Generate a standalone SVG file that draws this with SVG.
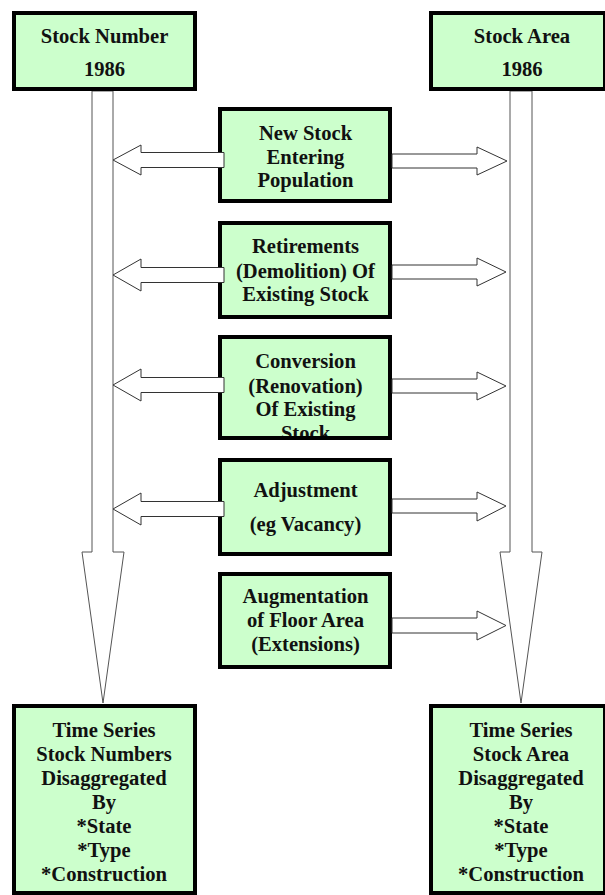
<svg xmlns="http://www.w3.org/2000/svg" width="605" height="895" viewBox="0 0 605 895">
  <style>
    .box { fill: #ccffcc; stroke: none; }
    .edge { fill: none; stroke: #000; stroke-width: 4; }
    .lbl { font-family: "Liberation Serif", "Times New Roman", serif; font-weight: bold; font-size: 20.6px; fill: #111; text-anchor: middle; }
    .flow { fill: #fff; stroke: #333; stroke-width: 1; }
    .trunk { fill: #fff; stroke: #555; stroke-width: 1; }
  </style>

  <!-- main stock flows (drawn first, ends tucked under the boxes) -->
  <g id="trunks">
    <polygon class="trunk" points="92,91 92,552 82,552 103,703 124,552 113,552 113,91"/>
    <polygon class="trunk" points="510,91 510,552 500,552 521,703 542,552 532,552 532,91"/>
  </g>

  <g id="stock-number-1986">
    <rect class="box" x="14" y="13" width="181" height="76"/>
    <text class="lbl" x="104.5" y="43">Stock Number</text>
    <text class="lbl" x="104.5" y="76">1986</text>
    <rect class="edge" x="14" y="13" width="181" height="76"/>
  </g>

  <g id="stock-area-1986">
    <rect class="box" x="431" y="13" width="174" height="76"/>
    <text class="lbl" x="522" y="43">Stock Area</text>
    <text class="lbl" x="522" y="76">1986</text>
    <rect class="edge" x="431" y="13" width="174" height="76"/>
  </g>

  <g id="new-stock">
    <rect class="box" x="220" y="109" width="170" height="92"/>
    <text class="lbl" x="305.5" y="140">New Stock</text>
    <text class="lbl" x="305.5" y="163.5">Entering</text>
    <text class="lbl" x="305.5" y="187">Population</text>
    <rect class="edge" x="220" y="109" width="170" height="92"/>
  </g>

  <g id="retirements">
    <rect class="box" x="220" y="223" width="170" height="94"/>
    <text class="lbl" x="305.5" y="253">Retirements</text>
    <text class="lbl" x="305.5" y="278">(Demolition) Of</text>
    <text class="lbl" x="305.5" y="301">Existing Stock</text>
    <rect class="edge" x="220" y="223" width="170" height="94"/>
  </g>

  <g id="conversion">
    <rect class="box" x="220" y="337" width="170" height="101"/>
    <text class="lbl" x="305.5" y="368">Conversion</text>
    <text class="lbl" x="305.5" y="393">(Renovation)</text>
    <text class="lbl" x="305.5" y="416">Of Existing</text>
    <text class="lbl" x="305.5" y="440">Stock</text>
    <rect class="edge" x="220" y="337" width="170" height="101"/>
  </g>

  <g id="adjustment">
    <rect class="box" x="220" y="460" width="170" height="94"/>
    <text class="lbl" x="305.5" y="497">Adjustment</text>
    <text class="lbl" x="305.5" y="531">(eg Vacancy)</text>
    <rect class="edge" x="220" y="460" width="170" height="94"/>
  </g>

  <g id="augmentation">
    <rect class="box" x="220" y="574" width="170" height="93"/>
    <text class="lbl" x="305.5" y="603">Augmentation</text>
    <text class="lbl" x="305.5" y="627">of Floor Area</text>
    <text class="lbl" x="305.5" y="651">(Extensions)</text>
    <rect class="edge" x="220" y="574" width="170" height="93"/>
  </g>

  <g id="time-series-numbers">
    <rect class="box" x="14" y="706" width="181" height="187"/>
    <text class="lbl" x="104" y="737">Time Series</text>
    <text class="lbl" x="104" y="761">Stock Numbers</text>
    <text class="lbl" x="104" y="785">Disaggregated</text>
    <text class="lbl" x="104" y="809">By</text>
    <text class="lbl" x="104" y="833">*State</text>
    <text class="lbl" x="104" y="857">*Type</text>
    <text class="lbl" x="104" y="881">*Construction</text>
    <rect class="edge" x="14" y="706" width="181" height="187"/>
  </g>

  <g id="time-series-area">
    <rect class="box" x="431" y="706" width="174" height="187"/>
    <text class="lbl" x="521" y="737">Time Series</text>
    <text class="lbl" x="521" y="761">Stock Area</text>
    <text class="lbl" x="521" y="785">Disaggregated</text>
    <text class="lbl" x="521" y="809">By</text>
    <text class="lbl" x="521" y="833">*State</text>
    <text class="lbl" x="521" y="857">*Type</text>
    <text class="lbl" x="521" y="881">*Construction</text>
    <rect class="edge" x="431" y="706" width="174" height="187"/>
  </g>

  <!-- block arrows from each change box to the two stock columns -->
  <g id="connectors">
    <polygon class="flow" points="224,152.5 141,152.5 141,145 113,160 141,175 141,167.5 224,167.5"/>
    <polygon class="flow" points="392,154 477,154 477,147 507,161 477,175 477,168 392,168"/>

    <polygon class="flow" points="224,267.5 141,267.5 141,259 113,275 141,291 141,282.5 224,282.5"/>
    <polygon class="flow" points="392,265 477,265 477,258 506,272 477,286 477,279 392,279"/>

    <polygon class="flow" points="224,377.5 141,377.5 141,369 113,385 141,401 141,392.5 224,392.5"/>
    <polygon class="flow" points="392,379 477,379 477,372 506,386 477,400 477,393 392,393"/>

    <polygon class="flow" points="224,501.5 141,501.5 141,493 113,509 141,525 141,516.5 224,516.5"/>
    <polygon class="flow" points="392,499 477,499 477,492 506,506 477,521 477,513 392,513"/>

    <polygon class="flow" points="392,618 477,618 477,611 506,625.5 477,640 477,633 392,633"/>
  </g>
</svg>
